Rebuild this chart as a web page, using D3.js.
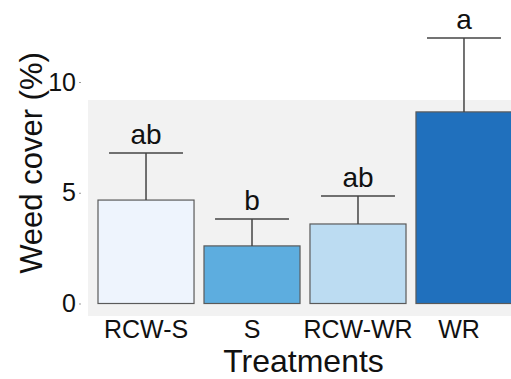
<!DOCTYPE html>
<html>
<head>
<meta charset="utf-8">
<script src="https://cdn.jsdelivr.net/npm/d3@7"></script>
<style>
html,body{margin:0;padding:0;background:#fff;}
svg{display:block;}
text{font-family:Arial,"Liberation Sans",sans-serif;fill:#111;}
</style>
</head>
<body>
<svg id="chart" width="511" height="379"></svg>
<script>
const categories = ["RCW-S", "S", "RCW-WR", "WR"];
const means = [4.67, 2.60, 3.59, 8.65];
const upperErr = [6.79, 3.81, 4.85, 11.99];
const letters = ["ab", "b", "ab", "a"];
const colors = ["#eef4fd", "#5daddf", "#bcdcf2", "#2070bd"];
const yTicks = [0, 5, 10];

const svg = d3.select("#chart");
const W = 511, H = 379;

// shaded panel background
svg.append("rect").attr("x", 88).attr("y", 100).attr("width", W - 88).attr("height", 216)
  .attr("fill", "#f2f2f2");

const x = d3.scaleBand().domain(categories).range([98, 512]).paddingInner(0.094).paddingOuter(0);
const y = d3.scaleLinear().domain([0, 12.5]).range([303.5, 303.5 - 12.5 * 22.15]);

// y axis
const yAxis = svg.append("g").attr("transform", "translate(81,0)")
  .call(d3.axisLeft(y).tickValues(yTicks).tickSize(2).tickPadding(3).tickFormat(d3.format("d")));
yAxis.select(".domain").remove();
yAxis.selectAll(".tick line").attr("stroke", "#999");
yAxis.selectAll(".tick text").style("font-size", "25px").attr("fill", "#111")
  .style("font-family", "Arial, 'Liberation Sans', sans-serif");

const data = categories.map((c, i) => ({c, m: means[i], u: upperErr[i], l: letters[i], col: colors[i]}));

// bars
svg.append("g").selectAll("rect").data(data).join("rect")
  .attr("x", d => x(d.c)).attr("y", d => y(d.m))
  .attr("width", x.bandwidth()).attr("height", d => y(0) - y(d.m))
  .attr("fill", d => d.col).attr("stroke", "#5a5a5a").attr("stroke-width", 1.2);

// error bars
const capW = x.bandwidth() * 0.77;
const eb = svg.append("g").attr("stroke", "#444").attr("stroke-width", 1.5);
eb.selectAll("line.v").data(data).join("line").attr("class", "v")
  .attr("x1", d => x(d.c) + x.bandwidth() / 2).attr("x2", d => x(d.c) + x.bandwidth() / 2)
  .attr("y1", d => y(d.m)).attr("y2", d => y(d.u));
eb.selectAll("line.c").data(data).join("line").attr("class", "c")
  .attr("x1", d => x(d.c) + x.bandwidth() / 2 - capW / 2).attr("x2", d => x(d.c) + x.bandwidth() / 2 + capW / 2)
  .attr("y1", d => y(d.u)).attr("y2", d => y(d.u));

// significance letters
svg.append("g").selectAll("text").data(data).join("text")
  .attr("x", d => x(d.c) + x.bandwidth() / 2).attr("y", d => y(d.u) - 9)
  .attr("text-anchor", "middle").style("font-size", "28px").text(d => d.l);

// x labels
svg.append("g").selectAll("text").data(data).join("text")
  .attr("x", (d, i) => x(d.c) + x.bandwidth() / 2 - (i === 3 ? 5 : 0)).attr("y", 338)
  .attr("text-anchor", "middle").style("font-size", "25px").text(d => d.c);

// axis titles
svg.append("text").attr("x", 303.5).attr("y", 372).attr("text-anchor", "middle")
  .style("font-size", "32px").text("Treatments");
svg.append("text").attr("transform", "translate(42,163) rotate(-90)").attr("text-anchor", "middle")
  .style("font-size", "31px").text("Weed cover (%)");
</script>
</body>
</html>
